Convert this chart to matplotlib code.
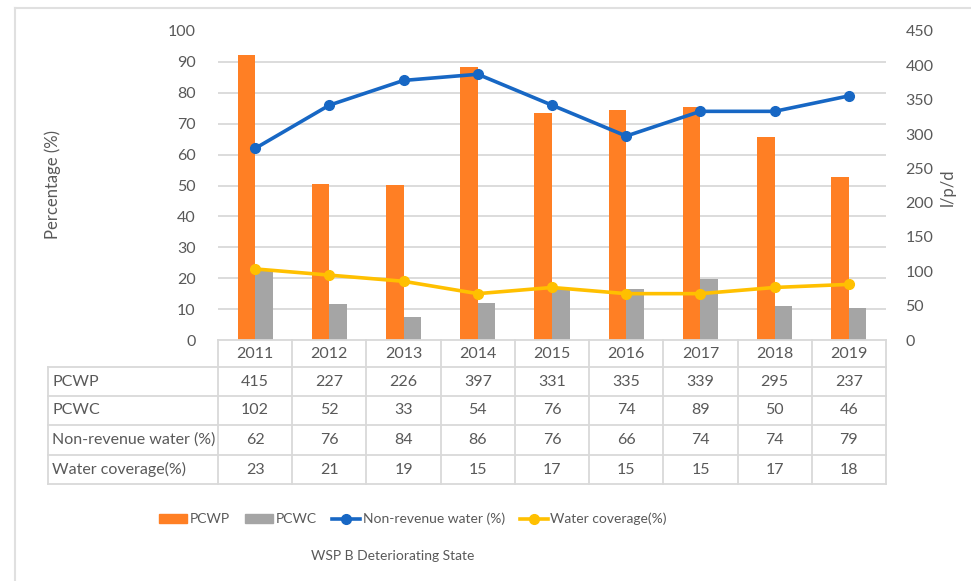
import numpy as np
import matplotlib.pyplot as plt
from matplotlib.lines import Line2D
from matplotlib.patches import Patch

plt.rcParams['font.family'] = ['Lato', 'DejaVu Sans']

# datos
years = ['2011', '2012', '2013', '2014', '2015', '2016', '2017', '2018', '2019']
pcwp = [415, 227, 226, 397, 331, 335, 339, 295, 237]
pcwc = [102, 52, 33, 54, 76, 74, 89, 50, 46]
nrw = [62, 76, 84, 86, 76, 66, 74, 74, 79]
coverage = [23, 21, 19, 15, 17, 15, 15, 17, 18]
row_names = ['PCWP', 'PCWC', 'Non-revenue water (%)', 'Water coverage(%)']

c_orange = '#FF7F24'
c_gray = '#A5A5A5'
c_blue = '#1767C4'
c_yellow = '#FFC000'
c_text = '#595959'
c_grid = '#D9D9D9'

W, H = 971, 581
fig = plt.figure(figsize=(W / 100, H / 100), dpi=100)


def fx(px):
    return px / W


def fy(py):
    return 1 - py / H


# ejes en pixeles
x0, x1, ytop, ybot = 218, 886, 31, 340
ax = fig.add_axes([fx(x0), fy(ybot), fx(x1) - fx(x0), fy(ytop) - fy(ybot)])
ax2 = ax.twinx()
ax.set_zorder(2)
ax2.set_zorder(1)
ax.patch.set_visible(False)

x = np.arange(len(years))
w = 0.236
ax2.bar(x - w / 2, pcwp, w, color=c_orange, zorder=3)
ax2.bar(x + w / 2, pcwc, w, color=c_gray, zorder=3)
ax2.set_ylim(0, 450)
ax2.set_yticks(np.arange(0, 451, 50))
ax2.set_yticks(np.arange(0, 451, 45), minor=True)
ax2.grid(which='minor', axis='y', color=c_grid, linewidth=1.3, zorder=0)
ax2.tick_params(which='both', length=0, labelsize=11.5, labelcolor=c_text, pad=14)

ax.plot(x, nrw, color=c_blue, lw=2.6, marker='o', ms=7, zorder=4)
ax.plot(x, coverage, color=c_yellow, lw=2.6, marker='o', ms=7, zorder=4)
ax.set_ylim(0, 100)
ax.set_yticks(np.arange(0, 101, 10))
ax.tick_params(length=0, labelsize=11.5, labelcolor=c_text, pad=16)
ax.set_xlim(-0.5, len(years) - 0.5)
ax.set_xticks([])
for a in (ax, ax2):
    for s in a.spines.values():
        s.set_visible(False)

fig.text(fx(53), fy(185), 'Percentage (%)', rotation=90, ha='center', va='center',
         fontsize=12, color=c_text)
fig.text(fx(948), fy(187), 'l/p/d', rotation=90, ha='center', va='center',
         fontsize=12, color=c_text)

# tabla de datos
col_w = (x1 - x0) / len(years)
row_y = [340, 367, 396, 425, 455, 484]
tl = 48


def hline(xa, xb, y):
    fig.add_artist(Line2D([fx(xa), fx(xb)], [fy(y), fy(y)], color=c_grid, lw=1.3))


def vline(xp, ya, yb):
    fig.add_artist(Line2D([fx(xp), fx(xp)], [fy(ya), fy(yb)], color=c_grid, lw=1.3))


hline(x0, x1, row_y[0])
for y in row_y[1:]:
    hline(tl, x1, y)
vline(tl, row_y[1], row_y[-1])
for k in range(len(years) + 1):
    vline(x0 + k * col_w, row_y[0], row_y[-1])

rows = [pcwp, pcwc, nrw, coverage]
for i, yr in enumerate(years):
    cx = x0 + (i + 0.5) * col_w
    fig.text(fx(cx), fy((row_y[0] + row_y[1]) / 2), yr, ha='center', va='center',
             fontsize=11.5, color=c_text)
    for r, vals in enumerate(rows):
        cy = (row_y[r + 1] + row_y[r + 2]) / 2
        fig.text(fx(cx), fy(cy), str(vals[i]), ha='center', va='center',
                 fontsize=11.5, color=c_text)
for r, name in enumerate(row_names):
    cy = (row_y[r + 1] + row_y[r + 2]) / 2
    fig.text(fx(52), fy(cy), name, ha='left', va='center', fontsize=11.5, color=c_text)

# leyenda
handles = [Patch(color=c_orange), Patch(color=c_gray),
           Line2D([], [], color=c_blue, lw=2.6, marker='o', ms=7),
           Line2D([], [], color=c_yellow, lw=2.6, marker='o', ms=7)]
labels = ['PCWP', 'PCWC', 'Non-revenue water (%)', 'Water coverage(%)']
leg = fig.legend(handles, labels, loc='center', bbox_to_anchor=(fx(413), fy(519)),
                 ncol=4, frameon=False, fontsize=10, handlelength=2.0,
                 handleheight=0.6, handletextpad=0.2, columnspacing=1.1)
for t in leg.get_texts():
    t.set_color(c_text)

fig.text(fx(393), fy(556), 'WSP B Deteriorating State', ha='center', va='center',
         fontsize=10, color=c_text)

# marco
fig.add_artist(Line2D([fx(15), fx(15)], [fy(8), 0], color='#E0E0E0', lw=1.5))
fig.add_artist(Line2D([fx(15), 1], [fy(8), fy(8)], color='#E0E0E0', lw=1.5))

plt.savefig('out.png', dpi=100)
